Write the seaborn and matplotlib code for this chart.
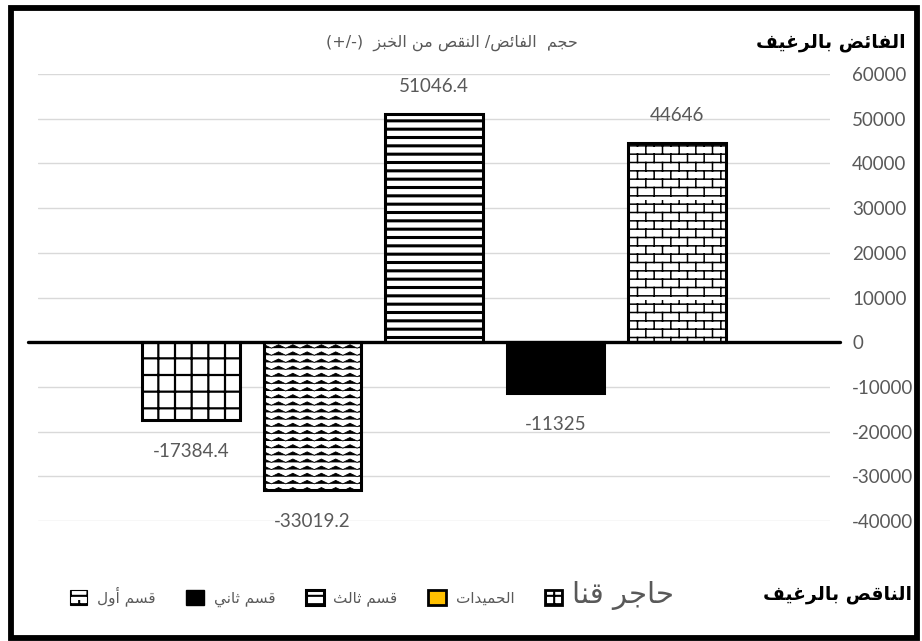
import warnings
warnings.filterwarnings("ignore")
import numpy as np
import pandas as pd
import matplotlib
matplotlib.use("Agg")
import matplotlib.pyplot as plt
import matplotlib.hatch as mhatch
from matplotlib.path import Path
from matplotlib.patches import Patch, Rectangle
import seaborn as sns

# ---------------- data ----------------
categories = ["حاجر قنا", "الحميدات", "قسم ثالث", "قسم ثاني", "قسم أول"]
values = [-17384.4, -33019.2, 51046.4, -11325, 44646]
y_ticks = [-40000, -30000, -20000, -10000, 0, 10000, 20000, 30000, 40000, 50000, 60000]
title_text = "حجم  الفائض/ النقص من الخبز"
title_suffix = "(+/-)"
top_label = "الفائض بالرغيف"
bottom_label = "الناقص بالرغيف"
legend_order = ["قسم أول", "قسم ثاني", "قسم ثالث", "الحميدات", "حاجر قنا"]

# ---------------- Arabic shaping (matplotlib has no shaping engine) ----------------
AR_FORMS = {
    '\u0627': (0xFE8D, False), '\u0623': (0xFE83, False), '\u0625': (0xFE87, False),
    '\u0622': (0xFE81, False), '\u0628': (0xFE8F, True), '\u062A': (0xFE95, True),
    '\u062B': (0xFE99, True), '\u062C': (0xFE9D, True), '\u062D': (0xFEA1, True),
    '\u062E': (0xFEA5, True), '\u062F': (0xFEA9, False), '\u0630': (0xFEAB, False),
    '\u0631': (0xFEAD, False), '\u0632': (0xFEAF, False), '\u0633': (0xFEB1, True),
    '\u0634': (0xFEB5, True), '\u0635': (0xFEB9, True), '\u0636': (0xFEBD, True),
    '\u0637': (0xFEC1, True), '\u0638': (0xFEC5, True), '\u0639': (0xFEC9, True),
    '\u063A': (0xFECD, True), '\u0641': (0xFED1, True), '\u0642': (0xFED5, True),
    '\u0643': (0xFED9, True), '\u0644': (0xFEDD, True), '\u0645': (0xFEE1, True),
    '\u0646': (0xFEE5, True), '\u0647': (0xFEE9, True), '\u0648': (0xFEED, False),
    '\u064A': (0xFEF1, True), '\u0626': (0xFE89, True), '\u0629': (0xFE93, False),
    '\u0649': (0xFEEF, False),
}


def ar(text):
    out = []
    n = len(text)
    for i, ch in enumerate(text):
        if ch not in AR_FORMS:
            out.append(ch)
            continue
        base, dual = AR_FORMS[ch]
        prev = text[i - 1] if i > 0 else ''
        nxt = text[i + 1] if i < n - 1 else ''
        jp = prev in AR_FORMS and AR_FORMS[prev][1]
        jn = dual and nxt in AR_FORMS
        if jp and jn:
            cp = base + 3
        elif jp:
            cp = base + 1
        elif jn:
            cp = base + 2
        else:
            cp = base
        out.append(chr(cp))
    return ''.join(out)[::-1]


# ---------------- custom hatches (zigzag 'z', brick 'b') ----------------
class ZigZagHatch(mhatch.HatchPatternBase):
    def __init__(self, hatch, density):
        self.rows = 14 if 'z' in hatch else 0
        self.periods = 7
        self.per_row = 2 * self.periods + 1
        self.num_vertices = self.rows * self.per_row

    def set_vertices_and_codes(self, vertices, codes):
        amp = 0.24 / self.rows
        for r in range(self.rows):
            y0 = (r + 0.5) / self.rows
            for k in range(self.per_row):
                idx = r * self.per_row + k
                vertices[idx, 0] = k / (2 * self.periods)
                vertices[idx, 1] = y0 + (amp if k % 2 else -amp)
                codes[idx] = Path.MOVETO if k == 0 else Path.LINETO


class BrickHatch(mhatch.HatchPatternBase):
    def __init__(self, hatch, density):
        self.rows = 12 if 'b' in hatch else 0
        self.cols = 6
        self.num_vertices = self.rows * 2 + self.rows * self.cols * 2

    def set_vertices_and_codes(self, vertices, codes):
        i = 0
        for r in range(self.rows):
            y = (r + 0.5) / self.rows
            vertices[i] = (0.0, y); codes[i] = Path.MOVETO; i += 1
            vertices[i] = (1.0, y); codes[i] = Path.LINETO; i += 1
        for r in range(self.rows):
            y_lo = (r + 0.5) / self.rows
            y_hi = (r + 1.5) / self.rows
            off = 0.25 if r % 2 == 0 else 0.75
            for c in range(self.cols):
                x = (c + off) / self.cols
                vertices[i] = (x, y_lo); codes[i] = Path.MOVETO; i += 1
                vertices[i] = (x, y_hi); codes[i] = Path.LINETO; i += 1


mhatch._hatch_types.append(ZigZagHatch)
mhatch._hatch_types.append(BrickHatch)
mhatch._validate_hatch_pattern = lambda h: None

# ---------------- figure ----------------
sns.set_style("white")
plt.rcParams['font.family'] = ['Lato', 'DejaVu Sans']
plt.rcParams['hatch.linewidth'] = 1.5

W, H = 922, 641
fig = plt.figure(figsize=(W / 100, H / 100), dpi=100)
ax_l, ax_r, ax_t, ax_b = 38, 830, 74, 521
ax = fig.add_axes([ax_l / W, 1 - ax_b / H, (ax_r - ax_l) / W, (ax_b - ax_t) / H])

df = pd.DataFrame({"cat": categories, "val": values})
sns.barplot(data=df, x="cat", y="val", order=categories, color="white",
            saturation=1, edgecolor="black", linewidth=2.2, width=0.8, ax=ax, zorder=2)

hatches = ['+', 'z', '--', None, 'b']
faces = ['white', 'white', 'white', 'black', 'white']
hatch_lw = [1.6, 0.6, 2.2, 1.0, 1.1]
for p, h, fc, hl in zip(ax.patches, hatches, faces, hatch_lw):
    p.set_facecolor(fc)
    if h:
        p.set_hatch(h)
    if hasattr(p, "set_hatch_linewidth"):
        p.set_hatch_linewidth(hl)

ax.set_ylim(-40000, 60000)
ax.set_xlim(-1.26, 5.26)
ax.set_yticks(y_ticks)
ax.set_yticklabels([str(t) for t in y_ticks])
ax.yaxis.tick_right()
ax.tick_params(axis='y', length=0, pad=16, labelsize=13.5, labelcolor='#595959')
ax.set_xticks([])
ax.set_xlabel("")
ax.set_ylabel("")
for s in ax.spines.values():
    s.set_visible(False)
ax.yaxis.grid(True, color='#d9d9d9', lw=1.0, zorder=0)
ax.set_axisbelow(True)
ext = 10 / (ax_r - ax_l)
ax.axhline(0, xmin=-ext, xmax=1 + ext, color='black', lw=2.4, clip_on=False, zorder=3)

for i, v in enumerate(values):
    off = 19.5 if v > 0 else -23
    ax.annotate(f"{v:g}", xy=(i, v), xytext=(0, off), textcoords='offset points',
                ha='center', va='center', fontsize=13.5, color='#595959')

# titles
fig.text(578 / W, 1 - 43 / H, title_suffix + "  " + ar(title_text), ha='right', va='center',
         fontsize=11.5, color='#595959', family='DejaVu Sans')
fig.text(906 / W, 1 - 42 / H, ar(top_label), ha='right', va='center',
         fontsize=13.5, color='black', fontweight='bold', family='DejaVu Sans')
fig.text(912 / W, 1 - 595 / H, ar(bottom_label), ha='right', va='center',
         fontsize=13.5, color='black', fontweight='bold', family='DejaVu Sans')

# legend
handle_map = {
    "قسم أول": Patch(facecolor='white', edgecolor='black', hatch='b', lw=0.8),
    "قسم ثاني": Patch(facecolor='black', edgecolor='black', lw=1.0),
    "قسم ثالث": Patch(facecolor='white', edgecolor='black', hatch='--', lw=2.2),
    "الحميدات": Patch(facecolor='#FFC000', edgecolor='black', lw=2.0),
    "حاجر قنا": Patch(facecolor='white', edgecolor='black', hatch='++', lw=2.0),
}
handles = [handle_map[k] for k in legend_order]
leg = fig.legend(handles, [ar(k) for k in legend_order], ncol=5, loc='center',
                 bbox_to_anchor=(372 / W, 1 - 595 / H), frameon=False,
                 prop={'family': 'DejaVu Sans', 'size': 11}, labelcolor='#595959',
                 handlelength=1.15, handleheight=1.15, handletextpad=0.65, columnspacing=2.0)
leg.get_texts()[-1].set_fontsize(21)

# outer border
fig.add_artist(Rectangle((10.5 / W, 1 - 638 / H), (916.5 - 10.5) / W, (638 - 8) / H,
                         transform=fig.transFigure, fill=False, edgecolor='black', lw=4.2))

fig.savefig("out.png", dpi=100)
